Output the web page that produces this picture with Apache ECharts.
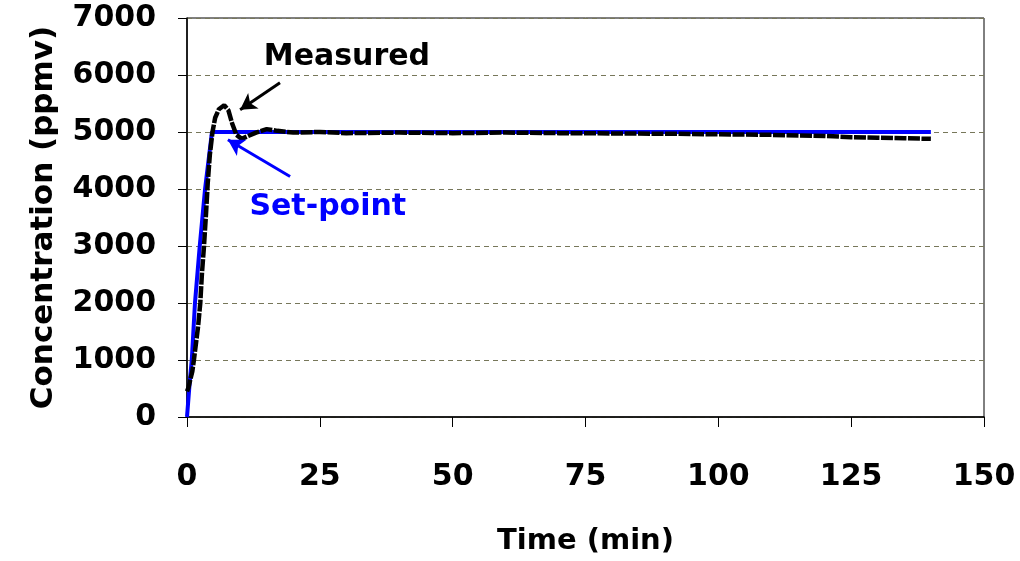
<!DOCTYPE html>
<html>
<head>
<meta charset="utf-8">
<script src="https://cdn.jsdelivr.net/npm/echarts@6/dist/echarts.min.js"></script>
<style>
  html, body { margin: 0; padding: 0; background: #fff; }
  #chart { width: 1020px; height: 561px; }
</style>
</head>
<body>
<div id="chart"></div>
<script>
// Measured concentration (ppmv) vs time (min)
const measuredTime = [0, 0.3, 0.6, 1.0, 1.3, 1.7, 2.1, 2.5, 2.8, 3.2, 3.6, 3.9, 4.3, 4.8, 5.3, 6.0, 7.0, 7.8, 8.5, 9.3, 10.3, 11.5, 13, 15, 17, 20, 25, 30, 40, 50, 60, 70, 80, 90, 100, 110, 120, 125, 130, 135, 140];
const measuredConc = [450, 520, 650, 800, 1000, 1300, 1600, 2000, 2500, 3000, 3600, 4100, 4600, 5000, 5250, 5400, 5470, 5380, 5150, 4950, 4880, 4930, 4990, 5050, 5020, 4990, 5000, 4980, 4990, 4980, 4990, 4980, 4975, 4970, 4960, 4950, 4930, 4910, 4900, 4890, 4880];

// Set-point ramp then hold
const setTime = [0, 0.5, 0.9, 1.5, 2.4, 3.4, 4.7, 140];
const setConc = [0, 600, 1000, 2000, 3000, 4000, 5000, 5000];

const xTicks = [0, 25, 50, 75, 100, 125, 150];
const yTicks = [0, 1000, 2000, 3000, 4000, 5000, 6000, 7000];

const FONT = 'DejaVu Sans';
const pair = (xs, ys) => xs.map((x, i) => [x, ys[i]]);

const chart = echarts.init(document.getElementById('chart'), null, { renderer: 'canvas' });

chart.setOption({
  animation: false,
  backgroundColor: '#ffffff',
  grid: {
    left: 187, right: 36, top: 18, bottom: 143,
    show: true, borderColor: '#000', borderWidth: 1, backgroundColor: 'transparent'
  },
  xAxis: {
    type: 'value',
    min: xTicks[0], max: xTicks[xTicks.length - 1], interval: 25,
    name: 'Time (min)',
    nameLocation: 'middle',
    nameGap: 110,
    nameTextStyle: { fontFamily: FONT, fontWeight: 'bold', fontSize: 29, color: '#000' },
    axisLine: { show: true, onZero: false, lineStyle: { color: '#000', width: 1.5 } },
    axisTick: { show: true, inside: false, length: 10, lineStyle: { color: '#000', width: 1 } },
    axisLabel: { margin: 45, fontFamily: FONT, fontWeight: 'bold', fontSize: 30, color: '#000' },
    splitLine: { show: false }
  },
  yAxis: {
    type: 'value',
    min: yTicks[0], max: yTicks[yTicks.length - 1], interval: 1000,
    name: 'Concentration (ppmv)',
    nameLocation: 'middle',
    nameGap: 128,
    nameRotate: 90,
    nameTextStyle: { fontFamily: FONT, fontWeight: 'bold', fontSize: 31, color: '#000' },
    axisLine: { show: true, lineStyle: { color: '#000', width: 1.5 } },
    axisTick: { show: true, inside: false, length: 9, lineStyle: { color: '#000', width: 1 } },
    axisLabel: {
      margin: 31, fontFamily: FONT, fontWeight: 'bold', fontSize: 30, color: '#000',
      formatter: v => String(v)
    },
    splitLine: { show: true, lineStyle: { color: '#77775a', width: 1, type: [5, 4] } }
  },
  series: [
    {
      name: 'Set-point',
      type: 'line',
      data: pair(setTime, setConc),
      showSymbol: false,
      lineStyle: { color: '#0000ff', width: 4 },
      z: 2,
      markLine: {
        silent: true,
        symbol: ['none', 'arrow'],
        symbolSize: [14, 16],
        label: { show: false },
        lineStyle: { color: '#0000ff', width: 3, type: 'solid' },
        data: [[{ coord: [19.4, 4218] }, { coord: [7.7, 4865] }]]
      },
      markPoint: {
        silent: true,
        symbolSize: 0,
        label: {
          show: true, position: 'inside', formatter: 'Set-point',
          fontFamily: FONT, fontWeight: 'bold', fontSize: 30, color: '#0000ff',
          backgroundColor: '#ffffff', padding: [2, 8]
        },
        data: [{ coord: [26.5, 3675] }]
      }
    },
    {
      name: 'Measured',
      type: 'line',
      data: pair(measuredTime, measuredConc),
      showSymbol: false,
      lineStyle: { color: '#000000', width: 4.5, type: [12, 1.5] },
      z: 3,
      markLine: {
        silent: true,
        symbol: ['none', 'arrow'],
        symbolSize: [14, 16],
        label: { show: false },
        lineStyle: { color: '#000000', width: 3, type: 'solid' },
        data: [[{ coord: [17.5, 5862] }, { coord: [10.0, 5390] }]]
      },
      markPoint: {
        silent: true,
        symbolSize: 0,
        label: {
          show: true, position: 'inside', formatter: 'Measured',
          fontFamily: FONT, fontWeight: 'bold', fontSize: 30, color: '#000000',
          backgroundColor: '#ffffff', padding: [2, 26]
        },
        data: [{ coord: [30.1, 6318] }]
      }
    }
  ]
});
</script>
</body>
</html>
